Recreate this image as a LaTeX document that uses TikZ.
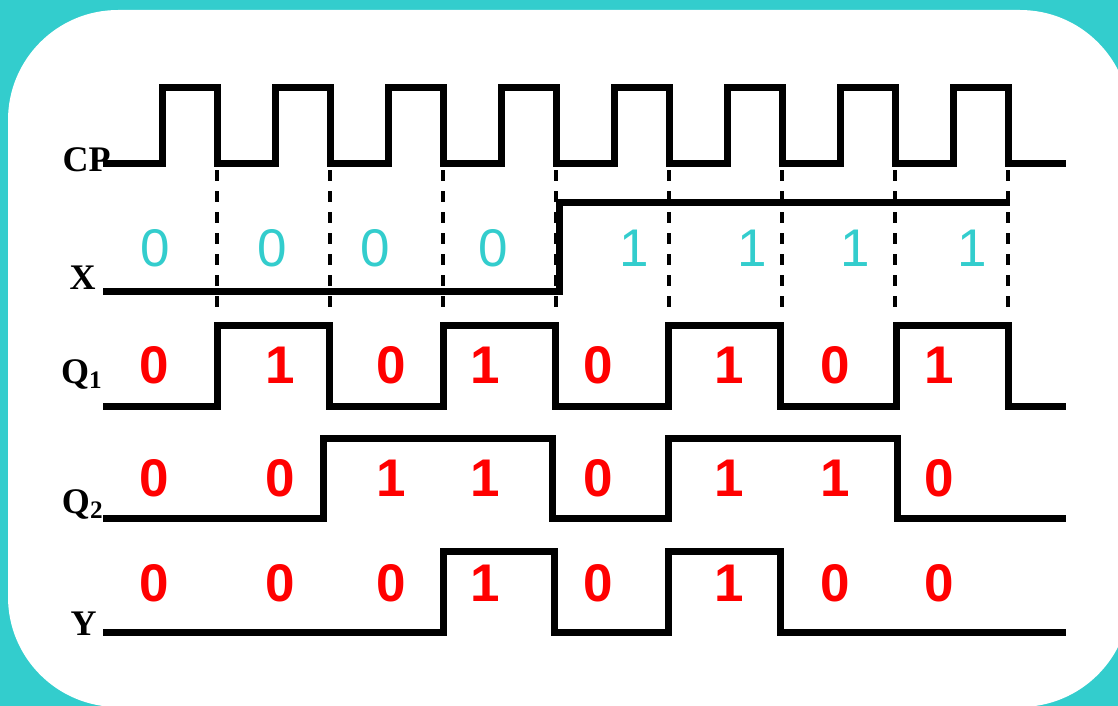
\documentclass[tikz,border=0pt]{standalone}
\usepackage{fontspec}
\setmainfont{Liberation Serif}
\setsansfont{Liberation Sans}
\definecolor{bgcyan}{RGB}{51,205,205}
\definecolor{bitred}{RGB}{255,0,0}

\begin{document}
\begin{tikzpicture}[
    x=0.5pt, y=-0.5pt,
    wave/.style={
        line width=3.5pt,
        line join=miter
    },
    guide/.style={
        line width=1.8pt,
        dash pattern=on 5.5pt off 5pt
    },
    sig/.style={
        anchor=base east,
        inner sep=0pt,
        font=\fontsize{18}{20}\selectfont\bfseries
    },
    bit/.style={
        font=\sffamily\fontsize{26.5}{30}\selectfont\bfseries,
        text=bitred
    },
    xbit/.style={
        font=\sffamily\fontsize{26.5}{30}\selectfont,
        text=bgcyan
    }
]

% frame
\clip (0,0) rectangle (1118,706);
\fill[bgcyan] (0,0) rectangle (1118,706);
\fill[white, rounded corners=55pt] (8,10) rectangle (1130,707);

% signal names
\node[sig] (cp) at (111,171) {CP};
\node[sig] (x)  at (96,289)  {X};
\node[sig] (q1) at (103,383) {Q\textsubscript{1}};
\node[sig] (q2) at (104,513) {Q\textsubscript{2}};
\node[sig] (y)  at (97,635)  {Y};

% clock
\draw[wave] (103,163)
    \foreach \k in {0,...,7} {
        -- ({162+113*\k},163) -- ({162+113*\k},88)
        -- ({217+113*\k},88) -- ({217+113*\k},163)
    } -- (1066,163);

% falling edges
\foreach \k in {0,...,7}
    \draw[guide] ({217+113*\k},170) -- ({217+113*\k},310);

% input X
\draw[wave] (103,291) -- (559,291) -- (559,202) -- (1010,202);
\foreach \px/\b [count=\i] in {155/0, 272/0, 375/0, 493/0, 634/1, 752/1, 855/1, 972/1}
    \node[xbit] (xb\i) at (\px,248) {\b};

% Q1
\draw[wave] (103,406)
    \foreach \a/\c in {217/329, 443/555, 668/780, 896/1008} {
        -- (\a,406) -- (\a,325) -- (\c,325) -- (\c,406)
    } -- (1066,406);

% Q2
\draw[wave] (103,518)
    \foreach \a/\c in {323/552, 668/897} {
        -- (\a,518) -- (\a,438) -- (\c,438) -- (\c,518)
    } -- (1066,518);

% output Y
\draw[wave] (103,632)
    \foreach \a/\c in {443/554, 668/780} {
        -- (\a,632) -- (\a,551) -- (\c,551) -- (\c,632)
    } -- (1066,632);

% state bits
\foreach \px/\p/\q/\r [count=\i] in {154/0/0/0, 280/1/0/0, 391/0/1/0, 485/1/1/1,
                                     598/0/0/0, 729/1/1/1, 835/0/1/0, 939/1/0/0} {
    \node[bit] (q1b\i) at (\px,365) {\p};
    \node[bit] (q2b\i) at (\px,478) {\q};
    \node[bit] (yb\i)  at (\px,583) {\r};
}

\end{tikzpicture}
\end{document}
